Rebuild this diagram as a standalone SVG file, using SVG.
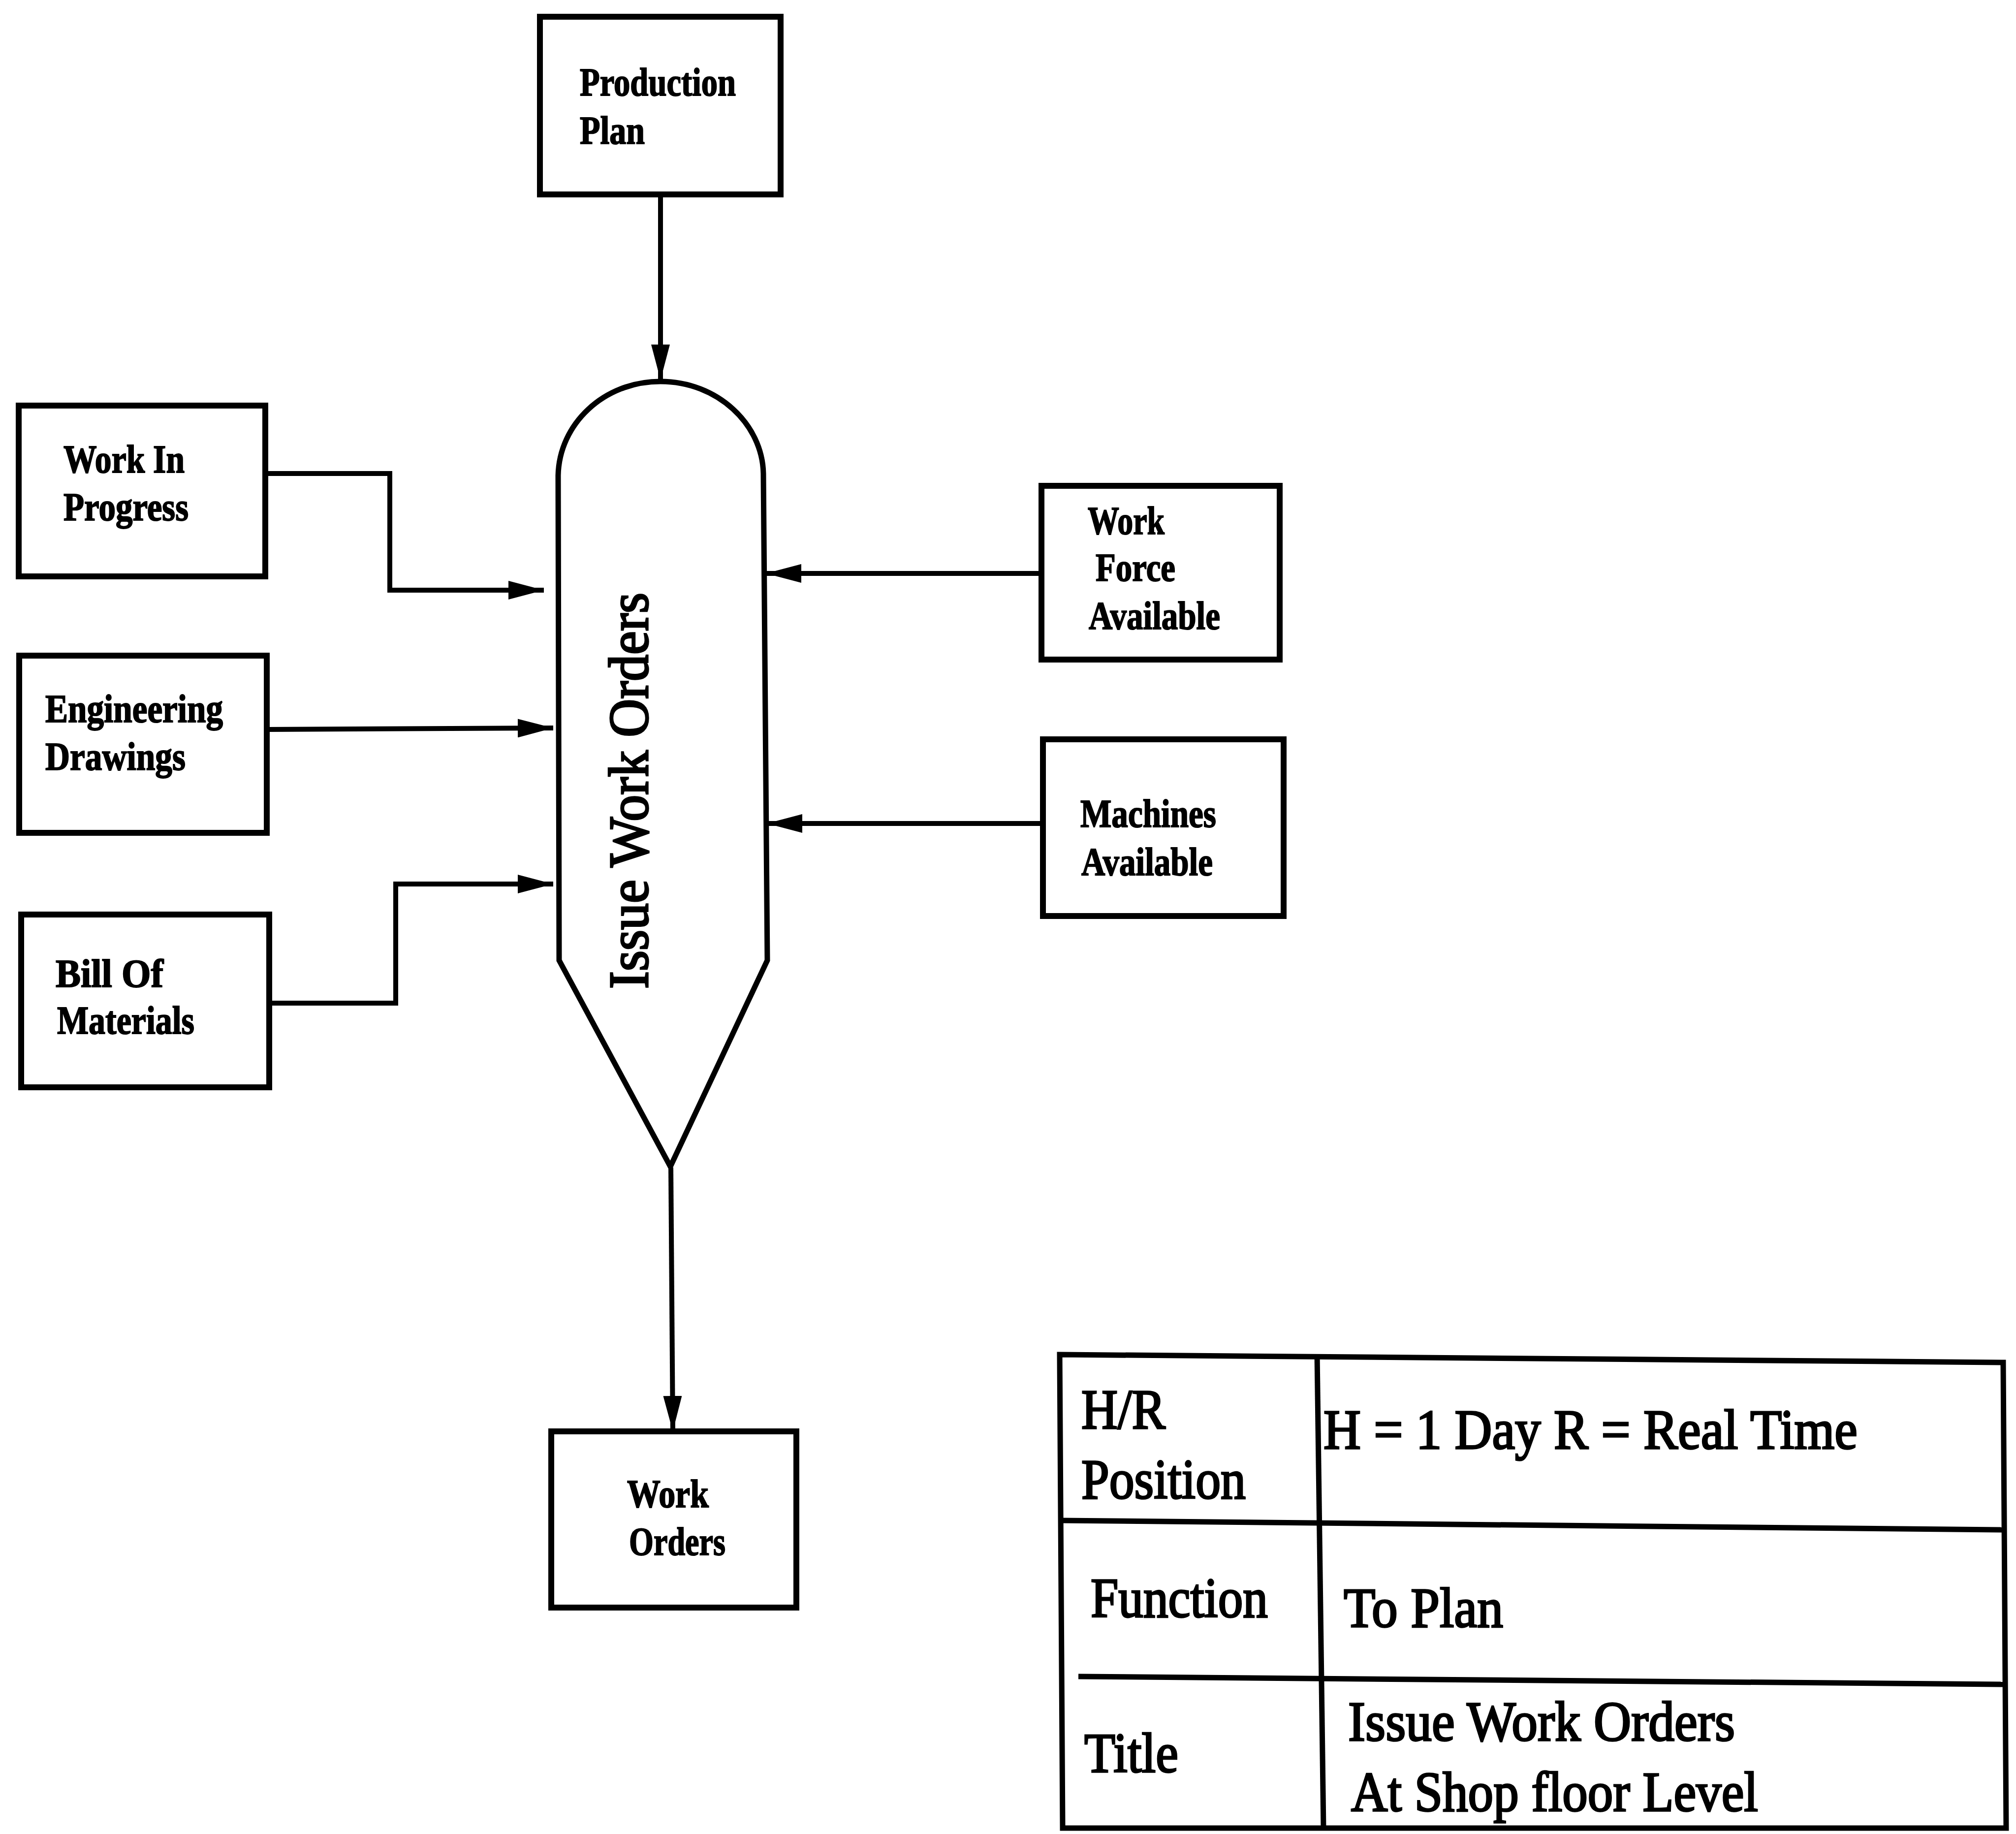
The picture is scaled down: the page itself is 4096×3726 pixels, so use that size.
<svg xmlns="http://www.w3.org/2000/svg" width="4096" height="3726" viewBox="0 0 4096 3726">
  <style>
    .box { fill: #ffffff; stroke: #000000; stroke-width: 12; }
    .proc { fill: #ffffff; stroke: #000000; stroke-width: 11; stroke-linejoin: miter; }
    .conn { fill: none; stroke: #000000; stroke-width: 10; }
    .grid { fill: none; stroke: #000000; stroke-width: 11; }
    .lbl { font-family: "Liberation Serif", "Times New Roman", serif; font-weight: bold; font-size: 80px; fill: #000000; stroke: #000000; stroke-width: 2; }
    .big { font-family: "Liberation Serif", "Times New Roman", serif; font-size: 114px; fill: #000000; stroke: #000000; stroke-width: 3.5; }
  </style>
  <defs>
    <marker id="arrow" markerUnits="userSpaceOnUse" viewBox="0 0 72 38" refX="72" refY="19" markerWidth="72" markerHeight="38" orient="auto">
      <path d="M0,0 L72,19 L0,38 Z" fill="#000000"/>
    </marker>
  </defs>
  <rect x="0" y="0" width="4096" height="3726" fill="#ffffff"/>

  <!-- connectors -->
  <g id="connectors">
    <path class="conn" d="M1342,395 L1342,772" marker-end="url(#arrow)"/>
    <path class="conn" d="M538,962 L792,962 L792,1199 L1105,1199" marker-end="url(#arrow)"/>
    <path class="conn" d="M542,1482 L1124,1479" marker-end="url(#arrow)"/>
    <path class="conn" d="M546,2038 L804,2038 L804,1796 L1124,1796" marker-end="url(#arrow)"/>
    <path class="conn" d="M2116,1165 L1556,1165" marker-end="url(#arrow)"/>
    <path class="conn" d="M2119,1673 L1558,1673" marker-end="url(#arrow)"/>
    <path class="conn" d="M1363,2372 L1367,2908" marker-end="url(#arrow)"/>
  </g>

  <!-- central process shape -->
  <g id="issue-work-orders">
    <path class="proc" d="M1342,775 C1226,775 1136,862 1134,966 L1136,1951 L1362,2370 L1559,1951 L1551,962 C1549,862 1458,775 1342,775 Z"/>
    <text class="big" transform="translate(1316,2009) rotate(-90)" textLength="805" lengthAdjust="spacingAndGlyphs">Issue Work Orders</text>
  </g>

  <g id="production-plan">
    <rect class="box" x="1097" y="34" width="489" height="361"/>
    <text class="lbl" x="1178" y="194" textLength="317" lengthAdjust="spacingAndGlyphs">Production</text>
    <text class="lbl" x="1178" y="292" textLength="132" lengthAdjust="spacingAndGlyphs">Plan</text>
  </g>

  <g id="work-in-progress">
    <rect class="box" x="38" y="824" width="501" height="347"/>
    <text class="lbl" x="129" y="960" textLength="246" lengthAdjust="spacingAndGlyphs">Work In</text>
    <text class="lbl" x="129" y="1057" textLength="254" lengthAdjust="spacingAndGlyphs">Progress</text>
  </g>

  <g id="engineering-drawings">
    <rect class="box" x="39" y="1332" width="503" height="360"/>
    <text class="lbl" x="92" y="1467" textLength="361" lengthAdjust="spacingAndGlyphs">Engineering</text>
    <text class="lbl" x="92" y="1564" textLength="285" lengthAdjust="spacingAndGlyphs">Drawings</text>
  </g>

  <g id="bill-of-materials">
    <rect class="box" x="43" y="1858" width="504" height="351"/>
    <text class="lbl" x="113" y="2005" textLength="219" lengthAdjust="spacingAndGlyphs">Bill Of</text>
    <text class="lbl" x="116" y="2100" textLength="279" lengthAdjust="spacingAndGlyphs">Materials</text>
  </g>

  <g id="work-force-available">
    <rect class="box" x="2116" y="987" width="484" height="353"/>
    <text class="lbl" x="2210" y="1085" textLength="156" lengthAdjust="spacingAndGlyphs">Work</text>
    <text class="lbl" x="2226" y="1180" textLength="162" lengthAdjust="spacingAndGlyphs">Force</text>
    <text class="lbl" x="2212" y="1278" textLength="267" lengthAdjust="spacingAndGlyphs">Available</text>
  </g>

  <g id="machines-available">
    <rect class="box" x="2119" y="1502" width="489" height="359"/>
    <text class="lbl" x="2195" y="1680" textLength="276" lengthAdjust="spacingAndGlyphs">Machines</text>
    <text class="lbl" x="2197" y="1778" textLength="267" lengthAdjust="spacingAndGlyphs">Available</text>
  </g>

  <g id="work-orders">
    <rect class="box" x="1120" y="2908" width="498" height="358"/>
    <text class="lbl" x="1274" y="3062" textLength="166" lengthAdjust="spacingAndGlyphs">Work</text>
    <text class="lbl" x="1278" y="3159" textLength="196" lengthAdjust="spacingAndGlyphs">Orders</text>
  </g>

  <!-- title block -->
  <g id="title-block">
    <path class="grid" d="M2153,2752 L4070,2768 L4076,3714 L2159,3714 Z"/>
    <path class="grid" d="M2676,2752 L2689,3714"/>
    <path class="grid" d="M2153,3089 L4070,3108"/>
    <path class="grid" d="M2191,3406 L4070,3422"/>
    <text class="big" x="2197" y="2902" textLength="171" lengthAdjust="spacingAndGlyphs">H/R</text>
    <text class="big" x="2197" y="3044" textLength="334" lengthAdjust="spacingAndGlyphs">Position</text>
    <text class="big" x="2689" y="2943" textLength="1085" lengthAdjust="spacingAndGlyphs">H = 1 Day R = Real Time</text>
    <text class="big" x="2216" y="3285" textLength="360" lengthAdjust="spacingAndGlyphs">Function</text>
    <text class="big" x="2730" y="3305" textLength="324" lengthAdjust="spacingAndGlyphs">To Plan</text>
    <text class="big" x="2203" y="3600" textLength="191" lengthAdjust="spacingAndGlyphs">Title</text>
    <text class="big" x="2739" y="3536" textLength="786" lengthAdjust="spacingAndGlyphs">Issue Work Orders</text>
    <text class="big" x="2745" y="3679" textLength="827" lengthAdjust="spacingAndGlyphs">At Shop floor Level</text>
  </g>
</svg>
